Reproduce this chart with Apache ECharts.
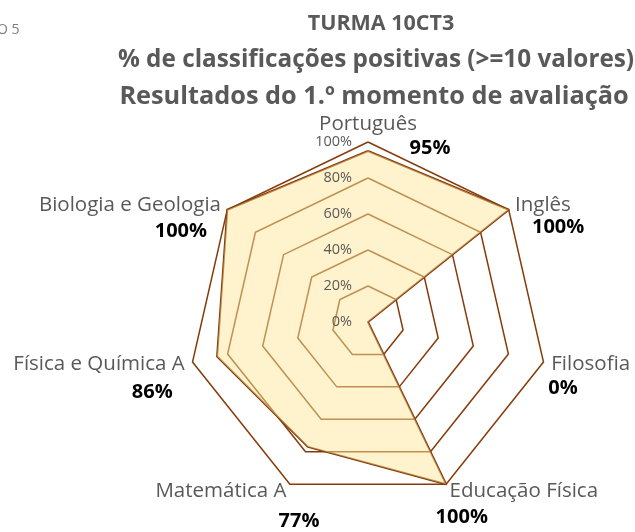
<!DOCTYPE html>
<html>
<head>
<meta charset="utf-8">
<script src="https://cdn.jsdelivr.net/npm/echarts@6/dist/echarts.min.js"></script>
<style>
  html, body { margin: 0; padding: 0; background: #fff; }
  #chart { width: 635px; height: 532px; }
</style>
</head>
<body>
<div id="chart"></div>
<script>
// disciplinas, no sentido dos ponteiros do relógio a partir do topo
const subjects = ['Português', 'Inglês', 'Filosofia', 'Educação Física', 'Matemática A', 'Física e Química A', 'Biologia e Geologia'];
const positives = [95, 100, 0, 100, 77, 86, 100];
const axisMax = 100;
const axisStep = 20;

// ajustes dos rótulos de valor (deslocação em px, altura da linha)
const labelShift = [
  { pad: [0, 0, 0, 124], lh: 21, top: 2 },
  { pad: [0, 0, 0, 17], lh: 20 },
  { pad: [0, 0, 0, -3], lh: 22 },
  { pad: [0, 0, 0, -14], lh: 26 },
  { pad: [0, -33, 0, 0], lh: 34 },
  { pad: [0, 12, 0, 0], lh: 31 },
  { pad: [0, 14, 0, 0], lh: 28 }
];

// echarts desenha o radar no sentido anti-horário -> inverter a ordem (mantendo o 1.º no topo)
const order = [0].concat(subjects.map((s, i) => i).slice(1).reverse());

const font = '"Open Sans", "Noto Sans", sans-serif';
let rich = {
  n: { fontSize: 20.5, color: '#595959', lineHeight: 26, fontFamily: font },
  t: { fontSize: 2, lineHeight: labelShift[0].top, fontFamily: font }
};
labelShift.forEach((s, i) => {
  rich['b' + i] = { fontSize: 19, lineHeight: s.lh, fontFamily: font };
  rich['v' + i] = {
    fontSize: 20, fontWeight: 'bold', color: '#000', lineHeight: s.lh,
    padding: s.pad, fontFamily: font
  };
});

let indicator = order.map((i) => ({ name: subjects[i], max: axisMax, min: 0 }));
// segundo radar só para as etiquetas da escala (por cima da área)
let scaleIndicator = order.map((i) => {
  let ind = { name: subjects[i], max: axisMax, min: 0 };
  if (i === 0) ind.axisLabel = { show: true };
  return ind;
});

let option = {
  backgroundColor: '#fff',
  animation: false,
  title: {
    text: '{a|TURMA 10CT3}\n{b|% de classificações positivas (>=10 valores)}\n{c|Resultados do 1.º momento de avaliação}',
    left: 376,
    top: 5,
    padding: 0,
    textAlign: 'center',
    textStyle: {
      rich: {
        a: { fontFamily: font, fontSize: 21.5, fontWeight: 'bold', color: '#595959', lineHeight: 37, padding: [0, 0, 0, 10] },
        b: { fontFamily: font, fontSize: 24.3, fontWeight: 'bold', color: '#595959', lineHeight: 37 },
        c: { fontFamily: font, fontSize: 25.3, fontWeight: 'bold', color: '#595959', lineHeight: 36, padding: [0, 4, 0, 0] }
      }
    }
  },
  graphic: [{
    type: 'text',
    left: -3,
    top: 23,
    style: { text: 'O 5', fontSize: 14, fill: '#7f7f7f', fontFamily: font }
  }],
  radar: [{
    center: [368, 322],
    radius: 180,
    shape: 'polygon',
    splitNumber: axisMax / axisStep,
    nameGap: 8,
    axisName: {
      verticalAlign: 'middle',
      formatter: function (name) {
        let i = subjects.indexOf(name);
        let val = '{v' + i + '|' + positives[i] + '%}';
        if (i === 0) return '{t| }\n{n|' + name + '}\n' + val;
        return '{b' + i + '| }\n{n|' + name + '}\n' + val;
      },
      rich: rich
    },
    axisLine: { show: false },
    axisTick: { show: false },
    axisLabel: { show: false },
    splitLine: { lineStyle: { color: '#843C0C', width: 1.5 } },
    splitArea: { show: false },
    indicator: indicator
  }, {
    center: [368, 322],
    radius: 180,
    shape: 'polygon',
    splitNumber: axisMax / axisStep,
    z: 5,
    axisName: { show: false },
    axisLine: { show: false },
    axisTick: { show: false },
    axisLabel: {
      show: false,
      formatter: '{value}%',
      color: '#595959',
      fontSize: 14.5,
      fontFamily: font,
      margin: 16
    },
    splitLine: { show: false },
    splitArea: { show: false },
    indicator: scaleIndicator
  }],
  series: [{
    type: 'radar',
    radarIndex: 0,
    symbol: 'none',
    lineStyle: { color: '#843C0C', width: 2 },
    areaStyle: { color: 'rgba(255,230,153,0.7)' },
    data: [{ name: '% positivas', value: order.map((i) => positives[i]) }]
  }]
};

let myChart = echarts.init(document.getElementById('chart'));
myChart.setOption(option);
</script>
</body>
</html>
